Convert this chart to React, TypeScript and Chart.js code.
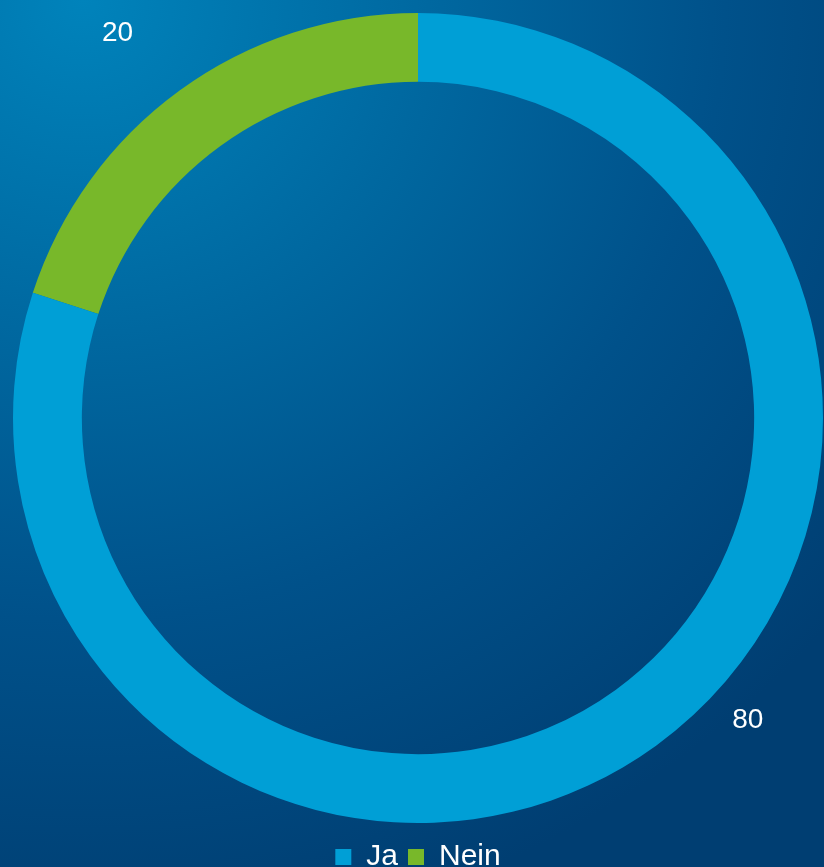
import React, { useEffect, useRef } from "react";
import { Chart, registerables } from "chart.js";

Chart.register(...registerables);

const categories = ["Nein", "Ja"];
const values = [20, 80];
const colors = ["#78B82A", "#009FD6"];
const legendOrder = ["Ja", "Nein"];

const valueLabels = {
  id: "valueLabels",
  afterDatasetsDraw(chart: any) {
    const meta = chart.getDatasetMeta(0);
    const ctx = chart.ctx;
    const cfg = [
      { radius: 1.205, shift: -0.035 },
      { radius: 1.105, shift: -0.2 },
    ];
    ctx.save();
    ctx.fillStyle = "#ffffff";
    ctx.font = "28px 'Liberation Sans', Arial, sans-serif";
    ctx.textAlign = "center";
    ctx.textBaseline = "middle";
    meta.data.forEach((arc: any, i: number) => {
      const p = arc.getProps(["x", "y", "startAngle", "endAngle", "outerRadius"], true);
      const mid = (p.startAngle + p.endAngle) / 2 + cfg[i].shift;
      const r = p.outerRadius * cfg[i].radius;
      ctx.fillText(String(values[i]), p.x + Math.cos(mid) * r, p.y + Math.sin(mid) * r);
    });
    ctx.restore();
  },
};

export default function App() {
  const ref = useRef<HTMLCanvasElement>(null);
  useEffect(() => {
    if (!ref.current) return;
    const chart = new Chart(ref.current, {
      type: "doughnut",
      data: {
        labels: categories,
        datasets: [
          {
            data: values,
            backgroundColor: colors,
            borderWidth: 0,
            hoverOffset: 0,
          },
        ],
      },
      options: {
        animation: false,
        responsive: false,
        cutout: "83%",
        rotation: -72,
        layout: { padding: { top: 4, left: 13, right: 1, bottom: 0 } },
        plugins: {
          tooltip: { enabled: false },
          legend: {
            position: "bottom",
            labels: {
              color: "#ffffff",
              boxWidth: 16,
              boxHeight: 16,
              padding: 10,
              font: { size: 30, family: "'Liberation Sans', Arial, sans-serif" },
              sort: (a: any, b: any) => legendOrder.indexOf(a.text) - legendOrder.indexOf(b.text),
            },
          },
        },
      },
      plugins: [valueLabels],
    });
    return () => chart.destroy();
  }, []);
  return (
    <div
      style={{
        position: "fixed",
        left: 0,
        top: 0,
        width: 824,
        height: 867,
        overflow: "hidden",
        background:
          "radial-gradient(ellipse 120% 110% at 10% 0%, #0083bb 0%, #0068a0 35%, #00518a 65%, #003e72 100%)",
      }}
    >
      <canvas ref={ref} width={824} height={882} style={{ display: "block" }} />
    </div>
  );
}
